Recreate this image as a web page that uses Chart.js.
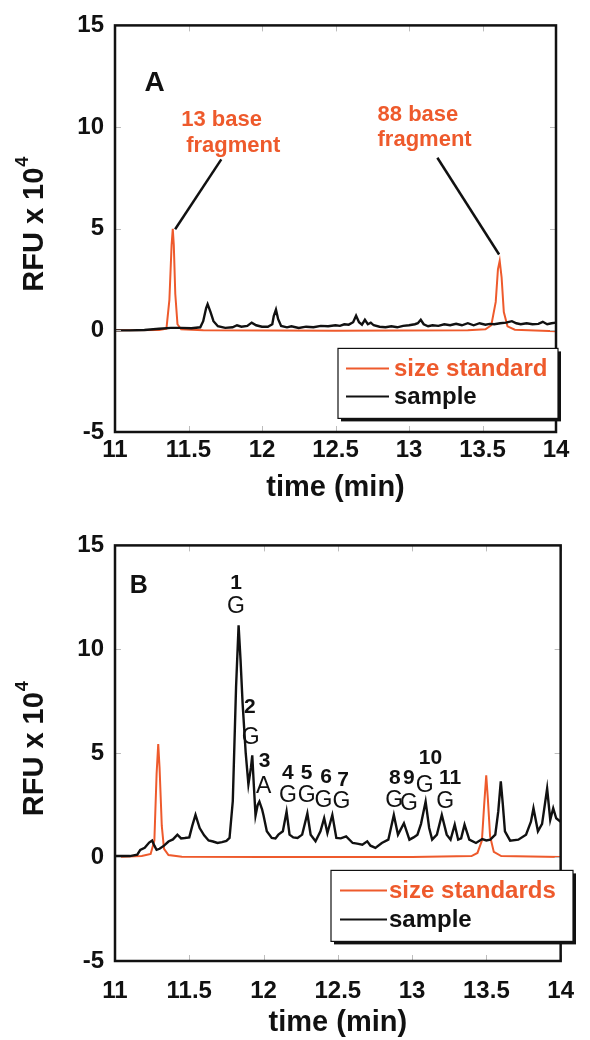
<!DOCTYPE html>
<html lang="en">
<head>
<meta charset="UTF-8">
<title>Electropherograms A / B</title>
<script src="https://cdn.jsdelivr.net/npm/chart.js@4.4.1/dist/chart.umd.min.js"></script>
<style>
  html, body { margin: 0; padding: 0; background: #fff; }
  #wrap { position: relative; width: 590px; height: 1040px; overflow: hidden; }
  canvas { position: absolute; left: 0; }
  #chartA { top: 0; }
  #chartB { top: 520px; }
</style>
</head>
<body>
<div id="wrap">
  <canvas id="chartA" width="590" height="520"></canvas>
  <canvas id="chartB" width="590" height="520"></canvas>
</div>
<script>
const ORANGE = "#ee5a2c";
const INK = "#111";
const FONT = "'Liberation Sans', Arial, Helvetica, sans-serif";

const xTicks = [11, 11.5, 12, 12.5, 13, 13.5, 14];
const yTicks = [-5, 0, 5, 10, 15];

// panel A: size standard (13 and 88 base fragments)
const timeStdA = [11.00, 11.30, 11.35, 11.37, 11.385, 11.393, 11.40, 11.41, 11.425, 11.45, 11.60, 12.50,
  13.40, 13.52, 13.56, 13.59, 13.605, 13.617, 13.63, 13.645, 13.67, 13.72, 14.00];
const rfuStdA = [0.00, 0.02, 0.08, 1.5, 4.2, 5.00, 4.2, 1.8, 0.3, 0.05, 0.00, -0.02,
  0.00, 0.05, 0.25, 1.4, 3.0, 3.42, 2.6, 0.9, 0.2, 0.03, -0.05];

// panel A: sample
const timeSampleA = [11.00, 11.10, 11.20, 11.30, 11.38, 11.45, 11.52, 11.58, 11.60, 11.62, 11.63, 11.65,
  11.67, 11.70, 11.75, 11.80, 11.83, 11.86, 11.90, 11.93, 11.96, 12.00, 12.04, 12.07, 12.08, 12.095,
  12.11, 12.13, 12.17, 12.20, 12.25, 12.30, 12.35, 12.40, 12.45, 12.50, 12.53, 12.56, 12.59, 12.62,
  12.64, 12.66, 12.68, 12.70, 12.72, 12.74, 12.76, 12.80, 12.84, 12.88, 12.92, 12.96, 13.00, 13.04,
  13.06, 13.08, 13.10, 13.13, 13.16, 13.20, 13.24, 13.28, 13.32, 13.36, 13.40, 13.44, 13.48, 13.52,
  13.55, 13.58, 13.62, 13.66, 13.70, 13.73, 13.76, 13.80, 13.84, 13.88, 13.91, 13.94, 13.97, 14.00];
const rfuSampleA = [0.00, 0.00, 0.02, 0.08, 0.12, 0.12, 0.10, 0.15, 0.45, 1.10, 1.29, 0.90,
  0.45, 0.20, 0.12, 0.15, 0.25, 0.18, 0.22, 0.38, 0.25, 0.18, 0.18, 0.30, 0.70, 1.02,
  0.55, 0.22, 0.15, 0.20, 0.12, 0.18, 0.15, 0.22, 0.20, 0.25, 0.22, 0.30, 0.28, 0.40,
  0.72, 0.40, 0.28, 0.52, 0.30, 0.38, 0.25, 0.18, 0.15, 0.20, 0.15, 0.22, 0.25, 0.30,
  0.35, 0.52, 0.30, 0.20, 0.25, 0.22, 0.30, 0.25, 0.32, 0.25, 0.35, 0.25, 0.35, 0.28,
  0.32, 0.30, 0.35, 0.38, 0.45, 0.35, 0.30, 0.35, 0.30, 0.32, 0.42, 0.30, 0.35, 0.38];

// panel B: size standards
const timeStdB = [11.00, 11.18, 11.24, 11.265, 11.28, 11.291, 11.30, 11.315, 11.33, 11.36, 11.45, 12.00,
  13.00, 13.40, 13.44, 13.47, 13.485, 13.499, 13.51, 13.525, 13.55, 13.60, 14.00];
const rfuStdB = [0.00, 0.05, 0.15, 0.8, 4.0, 5.44, 4.3, 1.5, 0.4, 0.1, 0.02, 0.00,
  0.00, 0.05, 0.2, 0.8, 2.5, 3.94, 2.8, 1.0, 0.25, 0.05, 0.00];

// panel B: sample
const timeSampleB = [11.00, 11.10, 11.15, 11.17, 11.20, 11.23, 11.25, 11.265, 11.28, 11.30, 11.33, 11.36,
  11.39, 11.42, 11.445, 11.47, 11.50, 11.52, 11.542, 11.57, 11.60, 11.63, 11.66, 11.69, 11.72, 11.75,
  11.771, 11.793, 11.815, 11.832, 11.845, 11.859, 11.88, 11.898, 11.915, 11.924, 11.935, 11.946, 11.96,
  11.972, 11.99, 12.00, 12.022, 12.055, 12.08, 12.10, 12.13, 12.155, 12.175, 12.20, 12.229, 12.26,
  12.295, 12.317, 12.35, 12.383, 12.408, 12.43, 12.463, 12.49, 12.52, 12.556, 12.60, 12.63, 12.665,
  12.698, 12.72, 12.753, 12.796, 12.84, 12.877, 12.905, 12.945, 12.982, 13.01, 13.036, 13.06, 13.091,
  13.115, 13.135, 13.167, 13.20, 13.233, 13.259, 13.287, 13.31, 13.33, 13.353, 13.385, 13.43, 13.472,
  13.50, 13.526, 13.56, 13.58, 13.597, 13.61, 13.625, 13.66, 13.715, 13.767, 13.80, 13.817, 13.847,
  13.875, 13.909, 13.93, 13.95, 13.97, 14.00];
const rfuSampleB = [0.05, 0.05, 0.12, 0.35, 0.45, 0.70, 0.80, 0.55, 0.35, 0.40, 0.55, 0.75,
  0.85, 1.08, 0.90, 0.92, 0.95, 1.50, 2.03, 1.40, 1.05, 0.80, 0.75, 0.68, 0.72, 0.78,
  0.92, 2.70, 8.20, 11.16, 9.5, 7.4, 5.0, 3.5, 4.3, 4.9, 3.4, 2.0, 2.5,
  2.67, 2.3, 2.0, 1.24, 0.92, 0.90, 1.08, 1.24, 2.19, 1.08, 0.95, 0.92, 1.08,
  2.10, 1.08, 0.76, 1.24, 1.87, 1.16, 2.03, 0.92, 0.90, 1.00, 0.68, 0.65, 0.60,
  0.76, 0.55, 0.44, 0.68, 0.84, 2.03, 1.08, 1.63, 0.84, 0.95, 1.08, 1.60, 2.67,
  1.40, 0.84, 1.08, 2.03, 1.08, 0.84, 1.56, 0.84, 0.90, 1.56, 0.84, 0.68, 0.87,
  0.80, 0.84, 1.08, 2.2, 3.65, 2.6, 1.24, 0.79, 0.84, 1.08, 1.7, 2.35, 1.24,
  1.6, 3.30, 1.79, 2.35, 1.87, 1.70];

// peak annotations in panel B
const peakNumbers = ["1", "2", "3", "4", "5", "6", "7", "8", "9", "10", "11"];
const peakBases = ["G", "G", "A", "G", "G", "G", "G", "G", "G", "G", "G"];

// where the annotations sit, in axis units [time, rfu]
const peakNumberPos = [[11.815, 13.2], [11.908, 7.19], [12.007, 4.6], [12.164, 4.06], [12.29, 4.06],
  [12.421, 3.86], [12.535, 3.7], [12.884, 3.81], [12.978, 3.78], [13.124, 4.76], [13.255, 3.81]];
const peakBasePos = [[11.815, 12.05], [11.913, 5.76], [12.0, 3.38], [12.164, 2.95], [12.29, 2.95],
  [12.404, 2.7], [12.524, 2.67], [12.88, 2.7], [12.978, 2.59], [13.084, 3.46], [13.222, 2.67]];

function points(ts, vs) {
  return ts.map((t, i) => ({ x: t, y: vs[i] }));
}

const panelPlugin = {
  id: "panel",
  afterDraw(chart, args, o) {
    const { ctx, chartArea: a } = chart;
    const sx = chart.scales.x, sy = chart.scales.y;
    const px = v => sx.getPixelForValue(v);
    const py = v => sy.getPixelForValue(v);
    ctx.save();

    // small inner tick marks
    ctx.strokeStyle = "#bdbdbd";
    ctx.lineWidth = 1;
    ctx.beginPath();
    xTicks.forEach(v => {
      const X = Math.round(px(v)) + 0.5;
      ctx.moveTo(X, a.top); ctx.lineTo(X, a.top + 6);
      ctx.moveTo(X, a.bottom); ctx.lineTo(X, a.bottom - 6);
    });
    yTicks.forEach(v => {
      const Y = Math.round(py(v)) + 0.5;
      ctx.moveTo(a.left, Y); ctx.lineTo(a.left + 6, Y);
      ctx.moveTo(a.right, Y); ctx.lineTo(a.right - 6, Y);
    });
    ctx.stroke();

    // frame
    ctx.strokeStyle = INK;
    ctx.lineWidth = 2.5;
    ctx.strokeRect(a.left, a.top, a.right - a.left, a.bottom - a.top);

    // y axis title with superscript
    ctx.save();
    ctx.translate(33, (a.top + a.bottom) / 2 - 4);
    ctx.rotate(-Math.PI / 2);
    ctx.fillStyle = INK;
    ctx.textBaseline = "middle";
    ctx.font = "bold 29px " + FONT;
    const main = "RFU x 10";
    const wMain = ctx.measureText(main).width;
    ctx.font = "bold 18px " + FONT;
    const wSup = ctx.measureText("4").width;
    const x0 = -(wMain + wSup) / 2;
    ctx.font = "bold 29px " + FONT;
    ctx.textAlign = "left";
    ctx.fillText(main, x0, 2);
    ctx.font = "bold 18px " + FONT;
    ctx.fillText("4", x0 + wMain + 1, -10);
    ctx.restore();

    // panel letter
    ctx.fillStyle = INK;
    ctx.textAlign = "center";
    ctx.textBaseline = "middle";
    ctx.font = "bold " + o.letterSize + "px " + FONT;
    ctx.fillText(o.letter, px(o.letterPos[0]), py(o.letterPos[1]));

    // callout lines and texts
    (o.callLines || []).forEach(l => {
      ctx.strokeStyle = INK;
      ctx.lineWidth = 2.5;
      ctx.beginPath();
      ctx.moveTo(px(l[0]), py(l[1]));
      ctx.lineTo(px(l[2]), py(l[3]));
      ctx.stroke();
    });
    (o.callTexts || []).forEach(t => {
      ctx.fillStyle = ORANGE;
      ctx.font = "bold 22px " + FONT;
      ctx.textAlign = "left";
      ctx.fillText(t.text, px(t.x), py(t.y));
    });

    // peak labels
    if (o.peaks) {
      ctx.fillStyle = INK;
      ctx.textAlign = "center";
      peakNumbers.forEach((n, i) => {
        ctx.font = "bold 21px " + FONT;
        ctx.fillText(n, px(peakNumberPos[i][0]), py(peakNumberPos[i][1]));
        ctx.font = "23px " + FONT;
        ctx.fillText(peakBases[i], px(peakBasePos[i][0]), py(peakBasePos[i][1]));
      });
    }

    // legend box with drop shadow
    const L = o.legend;
    const lx = a.left + L.dx, ly = a.top + L.dy;
    ctx.fillStyle = INK;
    ctx.fillRect(lx + 3, ly + 3, L.w, L.h);
    ctx.fillStyle = "#fff";
    ctx.fillRect(lx, ly, L.w, L.h);
    ctx.strokeStyle = INK;
    ctx.lineWidth = 1.2;
    ctx.strokeRect(lx, ly, L.w, L.h);
    ctx.textAlign = "left";
    ctx.font = "bold 24px " + FONT;
    chart.data.datasets.forEach((ds, i) => {
      const Y = ly + L.rows[i];
      ctx.strokeStyle = ds.borderColor;
      ctx.lineWidth = 2;
      ctx.beginPath();
      ctx.moveTo(lx + L.line[0], Y);
      ctx.lineTo(lx + L.line[1], Y);
      ctx.stroke();
      ctx.fillStyle = ds.borderColor;
      ctx.fillText(ds.label, lx + L.text, Y + 1);
    });

    ctx.restore();
  }
};

function makeChart(id, cfg) {
  return new Chart(document.getElementById(id), {
    type: "line",
    data: {
      datasets: [
        {
          label: cfg.stdLabel,
          data: points(cfg.stdT, cfg.stdV),
          borderColor: ORANGE,
          borderWidth: 2,
          pointRadius: 0,
          tension: 0,
          order: 1
        },
        {
          label: "sample",
          data: points(cfg.smpT, cfg.smpV),
          borderColor: INK,
          borderWidth: 2.4,
          pointRadius: 0,
          tension: 0,
          order: 0
        }
      ]
    },
    options: {
      responsive: false,
      animation: false,
      devicePixelRatio: 1,
      layout: { padding: { top: cfg.padTop, right: cfg.padRight, left: 0, bottom: 0 } },
      plugins: {
        legend: { display: false },
        tooltip: { enabled: false },
        panel: cfg.panel
      },
      scales: {
        x: {
          type: "linear",
          min: 11,
          max: 14,
          afterBuildTicks: s => { s.ticks = xTicks.map(v => ({ value: v })); },
          afterFit: s => { s.height = cfg.xHeight; },
          grid: { display: false, drawTicks: false },
          border: { display: false },
          ticks: {
            color: INK,
            padding: cfg.xTickPad,
            maxRotation: 0,
            font: { family: FONT, size: cfg.xTickSize, weight: "bold" },
            callback: v => String(v)
          },
          title: {
            display: true,
            text: "time (min)",
            color: INK,
            font: { family: FONT, size: 29, weight: "bold" },
            padding: { top: 0, bottom: cfg.titlePad }
          }
        },
        y: {
          min: -5,
          max: 15,
          afterBuildTicks: s => { s.ticks = yTicks.map(v => ({ value: v })); },
          afterFit: s => { s.width = 115; },
          grid: { display: false, drawTicks: false },
          border: { display: false },
          ticks: {
            color: INK,
            padding: 11,
            font: { family: FONT, size: 24, weight: "bold" },
            callback: v => String(v)
          }
        }
      }
    },
    plugins: [panelPlugin]
  });
}

makeChart("chartA", {
  stdLabel: "size standard",
  stdT: timeStdA, stdV: rfuStdA, smpT: timeSampleA, smpV: rfuSampleA,
  padTop: 25, padRight: 34, xHeight: 88, xTickPad: 4, xTickSize: 24, titlePad: 15,
  panel: {
    letter: "A", letterPos: [11.27, 12.15], letterSize: 28,
    callLines: [[11.409, 4.97, 11.723, 8.41], [13.193, 8.49, 13.613, 3.73]],
    callTexts: [
      { text: "13 base", x: 11.45, y: 10.33 },
      { text: "fragment", x: 11.484, y: 9.05 },
      { text: "88 base", x: 12.786, y: 10.62 },
      { text: "fragment", x: 12.786, y: 9.35 }
    ],
    legend: { dx: 223, dy: 323, w: 220, h: 70, line: [8, 51], text: 56, rows: [20, 48] }
  }
});

makeChart("chartB", {
  stdLabel: "size standards",
  stdT: timeStdB, stdV: rfuStdB, smpT: timeSampleB, smpV: rfuSampleB,
  padTop: 21, padRight: 16, xHeight: 79, xTickPad: 16, xTickSize: 24, titlePad: 0,
  panel: {
    letter: "B", letterPos: [11.16, 13.06], letterSize: 25,
    peaks: true,
    legend: { dx: 216, dy: 325, w: 242, h: 71, line: [9, 56], text: 58, rows: [20, 49] }
  }
});
</script>
</body>
</html>
